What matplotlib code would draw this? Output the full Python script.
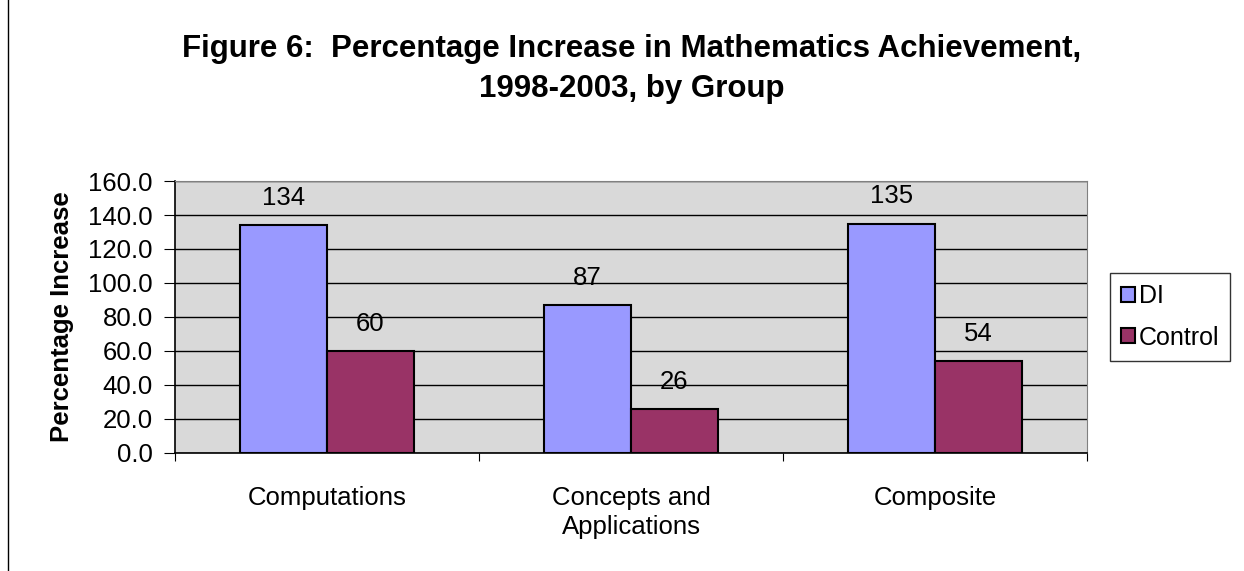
import matplotlib
matplotlib.use("Agg")
import matplotlib.pyplot as plt
import numpy as np
from matplotlib.lines import Line2D

categories = ["Computations", "Concepts and\nApplications", "Composite"]
di_values = [134, 87, 135]
control_values = [60, 26, 54]
series_names = ["DI", "Control"]
yticks = [0, 20, 40, 60, 80, 100, 120, 140, 160]

plt.rcParams['font.family'] = ['Liberation Sans', 'DejaVu Sans']

fig = plt.figure(figsize=(12.44, 5.71), dpi=100)
ax = fig.add_axes([0.1407, 0.2067, 0.7331, 0.4763])
ax.set_facecolor('#D9D9D9')

x = np.arange(len(categories))
w = 1 / 3.5
b1 = ax.bar(x - w / 2, di_values, w, color='#9999FF', edgecolor='black', linewidth=1.5, label=series_names[0], zorder=3)
b2 = ax.bar(x + w / 2, control_values, w, color='#993366', edgecolor='black', linewidth=1.5, label=series_names[1], zorder=3)

for bars, vals in ((b1, di_values), (b2, control_values)):
    for r, v in zip(bars, vals):
        ax.text(r.get_x() + r.get_width() / 2, v + 16, f"{v}", ha='center', va='center', fontsize=18.5)

ax.set_xlim(-0.5, len(categories) - 0.5)
ax.set_ylim(0, 160)
ax.set_yticks(yticks)
ax.set_yticklabels([f"{t:.1f}" for t in yticks], fontsize=18.5)
ax.yaxis.grid(True, color='black', linewidth=1, zorder=0)
ax.set_axisbelow(True)
ax.set_xticks(np.arange(-0.5, len(categories), 1.0))
ax.set_xticklabels([])
ax.set_xticks(x, minor=True)
ax.set_xticklabels(categories, minor=True, fontsize=18.5, linespacing=1.25)
ax.tick_params(axis='x', which='minor', length=0, pad=24)
ax.tick_params(axis='x', which='major', length=6, direction='out')
ax.tick_params(axis='y', length=8, direction='out', pad=8)
ax.set_ylabel("Percentage Increase", fontsize=18.5, fontweight='bold', labelpad=10)

for s in ('top', 'right'):
    ax.spines[s].set_color('#808080')
for s in ('left', 'bottom'):
    ax.spines[s].set_color('black')
    ax.spines[s].set_linewidth(1.2)

leg = ax.legend(loc='center left', bbox_to_anchor=(1.025, 0.5), fontsize=18, frameon=True,
                fancybox=False, edgecolor='black', handlelength=0.55, handleheight=0.55,
                handletextpad=0.15, labelspacing=0.7, borderpad=0.45, borderaxespad=0)
leg.get_frame().set_linewidth(1.0)

fig.text(0.508, 0.879, "Figure 6:  Percentage Increase in Mathematics Achievement,\n1998-2003, by Group",
         ha='center', va='center', fontsize=22.5, fontweight='bold', linespacing=1.4)

fig.add_artist(Line2D([8 / 1244, 8 / 1244], [0, 1], color='black', linewidth=1, transform=fig.transFigure))

fig.savefig("out.png", dpi=100, facecolor='white')
